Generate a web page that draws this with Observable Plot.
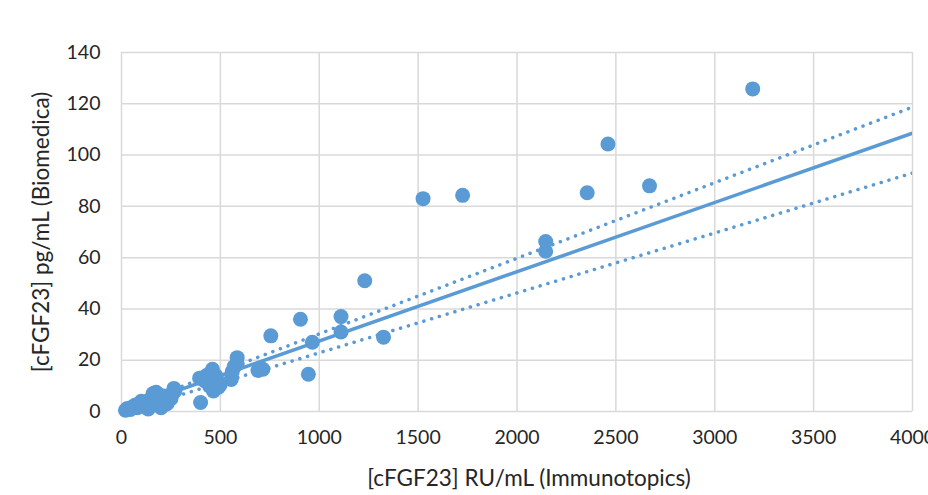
<!DOCTYPE html>
<html>
<head>
<meta charset="utf-8">
<script src="https://cdn.jsdelivr.net/npm/d3@7"></script>
<script src="https://cdn.jsdelivr.net/npm/@observablehq/plot@0.6"></script>
<style>
  html, body { margin: 0; padding: 0; background: #fff; overflow: hidden; }
  #chart svg { overflow: visible; }
</style>
</head>
<body>
<div id="chart"></div>
<script>
// Immunotopics (RU/mL) values
const immunotopics = [20, 30, 45, 55, 70, 80, 95, 100, 110, 120, 135, 140, 150, 160, 170, 175, 185, 190, 200, 210, 215, 230, 250, 255, 265, 270,
  395, 400, 420, 430, 445, 450, 460, 465, 470, 480, 490, 500, 555, 560, 570, 585, 585, 690, 715, 755, 905, 945, 965, 1110, 1110, 1230, 1325,
  1525, 1725, 2145, 2145, 2355, 2460, 2670, 3192];
// Biomedica (pg/mL) values
const biomedica = [0.5, 1.2, 0.8, 1.8, 2.5, 1.5, 3.0, 4.0, 2.0, 3.5, 1.0, 4.5, 2.5, 7.0, 5.5, 7.5, 3.5, 6.5, 1.5, 4.5, 6.0, 3.0, 5.0, 6.5, 9.0, 8.0,
  13, 3.5, 12, 14, 10, 15, 16.5, 8, 11, 13.5, 9.5, 10.5, 12.5, 15.5, 17.5, 18.5, 21, 16, 16.5, 29.5, 36, 14.5, 27, 37, 31, 51, 29,
  83, 84.3, 66.3, 62.5, 85.3, 104.3, 88, 125.8];
// Trend line endpoints (x, y)
const trendX = [0, 4000];
const trendFit = [0.5, 108.5];
const trendUpper = [0.8, 118.7];
const trendLower = [-0.5, 93.0];

const xTicks = [0, 500, 1000, 1500, 2000, 2500, 3000, 3500, 4000];
const yTicks = [0, 20, 40, 60, 80, 100, 120, 140];
const xTitle = "[cFGF23] RU/mL (Immunotopics)";
const yTitle = "[cFGF23] pg/mL (Biomedica)";

const points = immunotopics.map((x, i) => ({x, y: biomedica[i]}));
const line = (ys) => trendX.map((x, i) => ({x, y: ys[i]}));

const blue = "#5b9bd5";
const grid = "#d9d9d9";
const ink = "#262626";

const chart = Plot.plot({
  width: 928,
  height: 495,
  marginLeft: 121,
  marginRight: 16,
  marginTop: 52,
  marginBottom: 84,
  style: {fontFamily: "Lato, 'Open Sans', sans-serif", fontSize: "19.5px", color: ink, background: "#fff"},
  x: {domain: [0, 4000]},
  y: {domain: [0, 140]},
  marks: [
    Plot.gridX(xTicks, {stroke: grid, strokeOpacity: 1, strokeWidth: 1.5}),
    Plot.gridY(yTicks, {stroke: grid, strokeOpacity: 1, strokeWidth: 1.5}),
    Plot.axisX(xTicks, {tickSize: 0, tickPadding: 19, tickFormat: d => String(d), label: null}),
    Plot.axisY(yTicks, {tickSize: 0, tickPadding: 21, tickFormat: d => String(d), label: null}),
    Plot.text([xTitle], {text: d => d, frameAnchor: "bottom", lineAnchor: "middle", textAnchor: "middle", dx: 12, dy: 67, fontSize: 22.5, fill: ink}),
    Plot.text([yTitle], {text: d => d, frameAnchor: "left", lineAnchor: "middle", textAnchor: "middle", dx: -80, rotate: -90, fontSize: 22.5, fill: ink}),
    Plot.line(line(trendUpper), {x: "x", y: "y", stroke: blue, strokeWidth: 3.5, strokeDasharray: "0.1 8", strokeLinecap: "round"}),
    Plot.line(line(trendLower), {x: "x", y: "y", stroke: blue, strokeWidth: 3.5, strokeDasharray: "0.1 8", strokeLinecap: "round", clip: true}),
    Plot.dot(points, {x: "x", y: "y", r: 7.5, fill: blue, stroke: "none"}),
    Plot.line(line(trendFit), {x: "x", y: "y", stroke: blue, strokeWidth: 3.5, clip: true})
  ]
});
document.getElementById("chart").appendChild(chart);
</script>
</body>
</html>
